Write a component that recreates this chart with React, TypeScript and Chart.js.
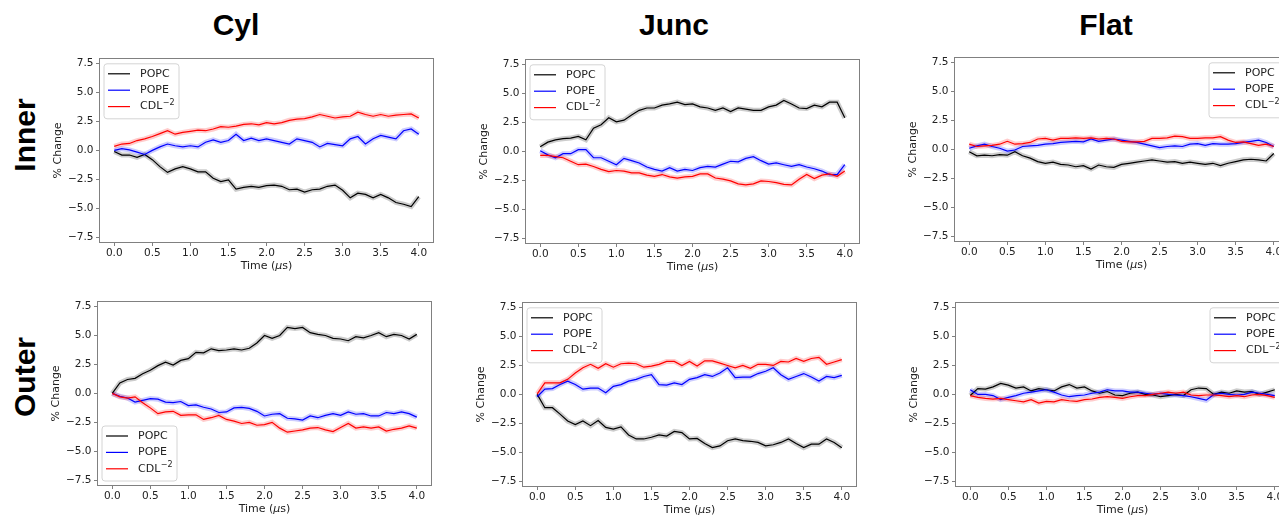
import React, { useEffect, useRef } from "react";
import { Chart, registerables } from "chart.js";

Chart.register(...registerables);

// ---------- data ----------
const TIME = [0.0, 0.1, 0.2, 0.3, 0.4, 0.5, 0.6, 0.7, 0.8, 0.9, 1.0, 1.1, 1.2, 1.3, 1.4, 1.5, 1.6, 1.7, 1.8, 1.9, 2.0, 2.1, 2.2, 2.3, 2.4, 2.5, 2.6, 2.7, 2.8, 2.9, 3.0, 3.1, 3.2, 3.3, 3.4, 3.5, 3.6, 3.7, 3.8, 3.9, 4.0];
const X_TICKS = [0.0, 0.5, 1.0, 1.5, 2.0, 2.5, 3.0, 3.5, 4.0];
const Y_TICKS = [-7.5, -5.0, -2.5, 0.0, 2.5, 5.0, 7.5];
const SERIES_NAMES = ["POPC", "POPE", "CDL"];
const SERIES_SUPERSCRIPTS = ["", "", "\u22122"];
const COLUMN_TITLES = ["Cyl", "Junc", "Flat"];
const ROW_TITLES = ["Inner", "Outer"];
const X_TITLE = ["Time (", "μ", "s)"];
const Y_TITLE = "% Change";

const CYL_IN_POPC = [-0.1, -0.4, -0.4, -0.6, -0.35, -0.8, -1.4, -1.9, -1.6, -1.4, -1.6, -1.85, -1.85, -2.4, -2.7, -2.55, -3.35, -3.2, -3.1, -3.2, -3.05, -3.0, -3.1, -3.4, -3.35, -3.6, -3.4, -3.35, -3.1, -3.0, -3.45, -4.1, -3.7, -3.8, -4.1, -3.8, -4.1, -4.5, -4.65, -4.85, -4.0];
const CYL_IN_POPE = [0.0, 0.15, 0.05, -0.15, -0.35, 0.0, 0.3, 0.55, 0.4, 0.3, 0.4, 0.3, 0.7, 0.9, 0.7, 0.85, 1.4, 0.85, 1.05, 0.85, 1.0, 0.85, 0.7, 0.55, 1.0, 0.85, 0.7, 0.3, 0.6, 0.5, 0.4, 1.0, 1.2, 0.55, 1.0, 1.3, 1.15, 1.0, 1.7, 1.85, 1.4];
const CYL_IN_CDL = [0.35, 0.55, 0.6, 0.85, 1.0, 1.2, 1.45, 1.7, 1.4, 1.55, 1.65, 1.75, 1.7, 1.85, 2.05, 2.0, 2.1, 2.25, 2.3, 2.2, 2.4, 2.3, 2.4, 2.6, 2.7, 2.75, 2.9, 3.1, 2.95, 2.8, 2.9, 2.95, 3.3, 3.1, 2.95, 3.1, 2.95, 3.05, 3.1, 3.15, 2.8];

const JUNC_IN_POPC = [0.4, 0.8, 1.0, 1.1, 1.15, 1.3, 1.0, 2.0, 2.3, 2.9, 2.55, 2.7, 3.15, 3.55, 3.75, 3.75, 4.0, 4.1, 4.25, 4.05, 4.1, 3.85, 3.75, 3.55, 3.75, 3.45, 3.75, 3.65, 3.55, 3.55, 3.85, 4.0, 4.4, 4.1, 3.75, 3.7, 4.0, 3.85, 4.25, 4.25, 2.9];
const JUNC_IN_POPE = [0.05, -0.3, -0.55, -0.2, -0.2, 0.15, 0.15, -0.55, -0.55, -0.85, -1.15, -0.6, -0.8, -1.0, -1.35, -1.55, -1.7, -1.4, -1.7, -1.55, -1.65, -1.4, -1.3, -1.35, -1.1, -0.85, -0.9, -0.6, -0.45, -0.8, -1.1, -1.0, -1.15, -1.3, -1.15, -1.35, -1.5, -1.7, -2.0, -2.0, -1.15];
const JUNC_IN_CDL = [-0.35, -0.35, -0.45, -0.55, -0.85, -1.15, -1.1, -1.3, -1.55, -1.75, -1.65, -1.7, -1.85, -1.85, -2.05, -2.15, -2.0, -2.2, -2.3, -2.2, -2.15, -1.95, -1.95, -2.3, -2.4, -2.55, -2.8, -2.9, -2.8, -2.55, -2.6, -2.7, -2.85, -2.9, -2.4, -2.0, -2.35, -2.05, -1.95, -2.15, -1.7];

const FLAT_IN_POPC = [-0.2, -0.55, -0.5, -0.55, -0.45, -0.5, -0.2, -0.55, -0.75, -1.05, -1.2, -1.1, -1.3, -1.35, -1.5, -1.4, -1.7, -1.35, -1.5, -1.55, -1.3, -1.2, -1.1, -1.0, -0.9, -1.0, -1.1, -1.05, -1.2, -1.1, -1.2, -1.3, -1.2, -1.4, -1.2, -1.05, -0.9, -0.85, -0.9, -1.0, -0.35];
const FLAT_IN_POPE = [0.1, 0.3, 0.45, 0.25, 0.1, -0.15, -0.05, 0.25, 0.3, 0.35, 0.45, 0.5, 0.6, 0.65, 0.7, 0.65, 0.9, 0.7, 0.8, 0.9, 0.8, 0.7, 0.6, 0.45, 0.3, 0.15, 0.25, 0.3, 0.25, 0.45, 0.5, 0.35, 0.5, 0.45, 0.45, 0.5, 0.6, 0.7, 0.8, 0.6, 0.25];
const FLAT_IN_CDL = [0.45, 0.25, 0.3, 0.35, 0.45, 0.7, 0.45, 0.5, 0.6, 0.9, 0.95, 0.8, 0.95, 0.95, 1.0, 0.95, 1.0, 0.9, 0.95, 0.9, 0.7, 0.65, 0.65, 0.7, 0.95, 0.95, 1.0, 1.15, 1.1, 0.95, 0.95, 1.0, 1.0, 1.1, 0.8, 0.6, 0.65, 0.5, 0.35, 0.45, 0.25];

const CYL_OUT_POPC = [0.0, 0.9, 1.2, 1.3, 1.7, 2.0, 2.4, 2.7, 2.45, 2.85, 3.0, 3.55, 3.5, 3.85, 3.7, 3.75, 3.85, 3.75, 3.9, 4.35, 5.0, 4.75, 5.0, 5.7, 5.6, 5.7, 5.25, 5.1, 5.0, 4.75, 4.7, 4.55, 4.9, 4.8, 5.0, 5.25, 4.9, 5.1, 5.0, 4.7, 5.1];
const CYL_OUT_POPE = [0.0, -0.25, -0.4, -0.75, -0.6, -0.45, -0.5, -0.75, -0.8, -0.7, -1.05, -1.0, -1.2, -1.35, -1.65, -1.6, -1.25, -1.2, -1.3, -1.55, -1.95, -1.8, -1.75, -2.15, -2.2, -2.3, -1.95, -2.1, -1.9, -1.75, -1.9, -1.6, -1.8, -1.75, -1.95, -1.95, -1.65, -1.75, -1.6, -1.75, -2.05];
const CYL_OUT_CDL = [0.0, -0.3, -0.4, -0.3, -0.8, -1.25, -1.75, -1.6, -1.55, -1.9, -1.85, -1.85, -2.25, -2.1, -1.9, -2.25, -2.4, -2.6, -2.5, -2.75, -2.7, -2.5, -3.0, -3.35, -3.25, -3.15, -3.0, -2.95, -3.15, -3.3, -2.95, -2.6, -3.0, -2.9, -3.0, -2.9, -3.25, -3.1, -3.0, -2.8, -3.0];

const JUNC_OUT_POPC = [0.0, -1.15, -1.15, -1.7, -2.3, -2.6, -2.3, -2.7, -2.25, -2.85, -3.0, -2.8, -3.5, -3.85, -3.85, -3.7, -3.5, -3.6, -3.2, -3.3, -3.85, -3.8, -4.25, -4.6, -4.45, -4.0, -3.85, -4.0, -4.05, -4.15, -4.45, -4.35, -4.15, -3.85, -4.25, -4.6, -4.3, -4.3, -3.85, -4.15, -4.6];
const JUNC_OUT_POPE = [-0.2, 0.45, 0.5, 0.85, 1.15, 0.85, 0.45, 0.55, 0.55, 0.15, 0.7, 0.85, 1.15, 1.3, 1.55, 1.7, 0.85, 0.8, 1.0, 0.85, 1.3, 1.45, 1.7, 1.55, 1.85, 2.3, 1.45, 1.5, 1.5, 1.8, 2.0, 2.3, 1.7, 1.3, 1.55, 1.8, 1.5, 1.15, 1.55, 1.45, 1.65];
const JUNC_OUT_CDL = [0.05, 1.0, 1.0, 1.0, 1.3, 1.85, 2.3, 2.6, 2.25, 2.65, 2.35, 2.65, 2.7, 2.65, 2.35, 2.45, 2.6, 2.85, 2.85, 2.5, 2.85, 2.45, 2.9, 2.9, 2.7, 2.5, 2.3, 2.5, 2.25, 2.6, 2.6, 2.5, 2.85, 2.8, 3.1, 2.85, 3.1, 3.2, 2.6, 2.8, 3.0];

const FLAT_OUT_POPC = [-0.1, 0.5, 0.45, 0.65, 0.95, 0.8, 0.55, 0.65, 0.3, 0.5, 0.4, 0.3, 0.65, 0.85, 0.55, 0.65, 0.3, 0.1, 0.25, -0.05, -0.1, 0.1, 0.2, 0.0, -0.05, -0.2, -0.1, 0.0, -0.1, 0.4, 0.55, 0.5, 0.0, 0.2, 0.1, 0.3, 0.2, 0.25, 0.0, 0.2, 0.4];
const FLAT_OUT_POPE = [0.4, 0.0, 0.0, -0.1, -0.45, -0.25, -0.1, 0.1, 0.2, 0.3, 0.4, 0.2, -0.05, -0.2, -0.1, -0.05, 0.1, 0.2, 0.4, 0.3, 0.3, 0.2, 0.2, 0.1, 0.0, 0.1, 0.0, -0.05, -0.1, -0.2, -0.35, -0.5, 0.0, 0.1, 0.0, -0.05, 0.0, 0.2, 0.1, 0.0, -0.1];
const FLAT_OUT_CDL = [-0.1, -0.25, -0.35, -0.4, -0.35, -0.45, -0.55, -0.65, -0.45, -0.75, -0.6, -0.65, -0.45, -0.55, -0.6, -0.45, -0.4, -0.25, -0.2, -0.25, -0.35, -0.2, -0.1, -0.1, 0.0, 0.1, 0.2, 0.1, 0.2, -0.05, -0.1, -0.05, -0.05, -0.1, -0.2, -0.1, -0.2, -0.05, 0.0, -0.1, -0.25];

// ---------- styles / layout ----------
const LINE_COLORS = ["#000000", "#0000ff", "#ff0000"];
const BAND_COLORS = ["rgba(0,0,0,0.2)", "rgba(0,0,255,0.2)", "rgba(255,0,0,0.2)"];
const FONT = "'DejaVu Sans', sans-serif";
const TITLE_FONT = "'Liberation Sans', Arial, sans-serif";
const TEXT_COLOR = "#222222";
const FRAME_COLOR = "#808080";

const PLOT_W = 335;
const PLOT_H = 188;
const PADL = 52;
const PADT = 6;
const PADR = 8;
const PADB = 34;

type Corner = "tl" | "bl" | "tr";
const PANELS: { series: number[][]; left: number; top: number; legend: Corner }[] = [
  { series: [CYL_IN_POPC, CYL_IN_POPE, CYL_IN_CDL], left: 99, top: 55, legend: "tl" },
  { series: [JUNC_IN_POPC, JUNC_IN_POPE, JUNC_IN_CDL], left: 525, top: 56, legend: "tl" },
  { series: [FLAT_IN_POPC, FLAT_IN_POPE, FLAT_IN_CDL], left: 954, top: 54, legend: "tr" },
  { series: [CYL_OUT_POPC, CYL_OUT_POPE, CYL_OUT_CDL], left: 97, top: 298, legend: "bl" },
  { series: [JUNC_OUT_POPC, JUNC_OUT_POPE, JUNC_OUT_CDL], left: 522, top: 299, legend: "tl" },
  { series: [FLAT_OUT_POPC, FLAT_OUT_POPE, FLAT_OUT_CDL], left: 955, top: 299, legend: "tr" },
];
const COLUMN_CENTERS = [236, 674, 1106];
const ROW_CENTERS = [134.5, 377];

const fmt = (v: number) => v.toFixed(1).replace("-", "\u2212");

const framePlugin = {
  id: "frame",
  afterDatasetsDraw(chart: any) {
    const { ctx, chartArea: a } = chart;
    ctx.save();
    ctx.strokeStyle = FRAME_COLOR;
    ctx.lineWidth = 1;
    ctx.strokeRect(Math.round(a.left) + 0.5, Math.round(a.top) + 0.5, Math.round(a.right - a.left) - 1, Math.round(a.bottom - a.top) - 1);
    ctx.restore();
  },
};

const xTitlePlugin = {
  id: "xTitle",
  afterDraw(chart: any) {
    const { ctx, chartArea: a } = chart;
    const normal = `11px ${FONT}`;
    const italic = `italic 11px ${FONT}`;
    ctx.save();
    ctx.textBaseline = "middle";
    ctx.textAlign = "left";
    ctx.fillStyle = TEXT_COLOR;
    const fonts = [normal, italic, normal];
    const widths = X_TITLE.map((s, i) => {
      ctx.font = fonts[i];
      return ctx.measureText(s).width;
    });
    const total = widths.reduce((p, c) => p + c, 0);
    let x = (a.left + a.right) / 2 - total / 2;
    const y = a.bottom + 23.5;
    X_TITLE.forEach((s, i) => {
      ctx.font = fonts[i];
      ctx.fillText(s, x, y);
      x += widths[i];
    });
    ctx.restore();
  },
};

function makeLegendPlugin(corner: Corner) {
  return {
    id: "insideLegend",
    afterDraw(chart: any) {
      const { ctx, chartArea: a } = chart;
      const w = 75;
      const h = 55;
      const x = corner === "tr" ? a.right - 5 - w : a.left + 5;
      const y = corner === "bl" ? a.bottom - 5 - h : a.top + 6;
      ctx.save();
      ctx.beginPath();
      const r = 3;
      ctx.moveTo(x + r, y);
      ctx.lineTo(x + w - r, y);
      ctx.arcTo(x + w, y, x + w, y + r, r);
      ctx.lineTo(x + w, y + h - r);
      ctx.arcTo(x + w, y + h, x + w - r, y + h, r);
      ctx.lineTo(x + r, y + h);
      ctx.arcTo(x, y + h, x, y + h - r, r);
      ctx.lineTo(x, y + r);
      ctx.arcTo(x, y, x + r, y, r);
      ctx.closePath();
      ctx.fillStyle = "rgba(255,255,255,0.85)";
      ctx.fill();
      ctx.strokeStyle = "#d4d4d4";
      ctx.lineWidth = 1;
      ctx.stroke();
      ctx.textBaseline = "middle";
      ctx.textAlign = "left";
      SERIES_NAMES.forEach((name, i) => {
        const ry = y + 10 + i * 16.4;
        ctx.beginPath();
        ctx.strokeStyle = LINE_COLORS[i];
        ctx.lineWidth = 1.2;
        ctx.moveTo(x + 4, ry);
        ctx.lineTo(x + 26, ry);
        ctx.stroke();
        ctx.fillStyle = TEXT_COLOR;
        ctx.font = `11px ${FONT}`;
        ctx.fillText(name, x + 36, ry);
        const sup = SERIES_SUPERSCRIPTS[i];
        if (sup) {
          const nw = ctx.measureText(name).width;
          ctx.font = `8px ${FONT}`;
          ctx.fillText(sup, x + 36 + nw + 0.5, ry - 4);
        }
      });
      ctx.restore();
    },
  };
}

function Panel({ series, left, top, legend }: { series: number[][]; left: number; top: number; legend: Corner }) {
  const ref = useRef<HTMLCanvasElement | null>(null);
  const width = PLOT_W + PADL + PADR;
  const height = PLOT_H + PADT + PADB;
  useEffect(() => {
    if (!ref.current) return;
    const datasets: any[] = [];
    series.forEach((vals, i) => {
      datasets.push({
        label: SERIES_NAMES[i] + " raw",
        data: TIME.map((t, k) => ({ x: t, y: vals[k] })),
        borderColor: BAND_COLORS[i],
        borderWidth: 5,
        pointRadius: 0,
        tension: 0,
        order: 5 - i,
      });
    });
    series.forEach((vals, i) => {
      datasets.push({
        label: SERIES_NAMES[i],
        data: TIME.map((t, k) => ({ x: t, y: vals[k] })),
        borderColor: LINE_COLORS[i],
        borderWidth: 1.2,
        pointRadius: 0,
        tension: 0,
        order: 2 - i,
      });
    });
    const chart = new Chart(ref.current, {
      type: "line",
      data: { datasets },
      options: {
        animation: false,
        responsive: false,
        maintainAspectRatio: false,
        devicePixelRatio: 1,
        layout: { padding: { top: PADT, right: PADR, left: 0, bottom: 0 } },
        plugins: { legend: { display: false }, tooltip: { enabled: false } },
        scales: {
          x: {
            type: "linear",
            min: -0.2,
            max: 4.2,
            afterBuildTicks: (axis: any) => {
              axis.ticks = X_TICKS.map((v) => ({ value: v }));
            },
            afterFit: (s: any) => {
              s.height = PADB;
            },
            ticks: {
              callback: (v: any) => fmt(Number(v)),
              font: { family: FONT, size: 10.5 },
              color: TEXT_COLOR,
              padding: 1,
              maxRotation: 0,
              autoSkip: false,
            },
            grid: { display: true, drawOnChartArea: false, drawTicks: true, tickLength: 3, color: FRAME_COLOR },
            border: { display: false },
            title: { display: false },
          },
          y: {
            type: "linear",
            min: -8,
            max: 8,
            afterBuildTicks: (axis: any) => {
              axis.ticks = Y_TICKS.map((v) => ({ value: v }));
            },
            afterFit: (s: any) => {
              s.width = PADL;
            },
            ticks: {
              callback: (v: any) => fmt(Number(v)),
              font: { family: FONT, size: 10.5 },
              color: TEXT_COLOR,
              padding: 2.5,
              autoSkip: false,
            },
            grid: { display: true, drawOnChartArea: false, drawTicks: true, tickLength: 3, color: FRAME_COLOR },
            border: { display: false },
            title: {
              display: true,
              text: Y_TITLE,
              font: { family: FONT, size: 11 },
              color: TEXT_COLOR,
              padding: { top: 5, bottom: 0 },
            },
          },
        },
      },
      plugins: [framePlugin, xTitlePlugin, makeLegendPlugin(legend)],
    } as any);
    return () => chart.destroy();
  }, [series, legend]);
  return (
    <canvas
      ref={ref}
      width={width}
      height={height}
      style={{ position: "absolute", left: left - PADL, top: top - PADT, width, height, display: "block" }}
    />
  );
}

export default function App() {
  return (
    <div
      style={{
        position: "absolute",
        left: 0,
        top: 0,
        width: 1279,
        height: 516,
        overflow: "hidden",
        background: "#ffffff",
      }}
    >
      {COLUMN_TITLES.map((t, i) => (
        <div
          key={t}
          style={{
            position: "absolute",
            left: COLUMN_CENTERS[i] - 100,
            top: 10,
            width: 200,
            height: 30,
            lineHeight: "30px",
            textAlign: "center",
            fontFamily: TITLE_FONT,
            fontWeight: "bold",
            fontSize: 30,
            color: "#000",
          }}
        >
          {t}
        </div>
      ))}
      {ROW_TITLES.map((t, i) => (
        <div
          key={t}
          style={{
            position: "absolute",
            left: 24.5 - 60,
            top: ROW_CENTERS[i] - 15,
            width: 120,
            height: 30,
            lineHeight: "30px",
            textAlign: "center",
            fontFamily: TITLE_FONT,
            fontWeight: "bold",
            fontSize: 30,
            color: "#000",
            transform: "rotate(-90deg)",
          }}
        >
          {t}
        </div>
      ))}
      {PANELS.map((p, i) => (
        <Panel key={i} series={p.series} left={p.left} top={p.top} legend={p.legend} />
      ))}
    </div>
  );
}
